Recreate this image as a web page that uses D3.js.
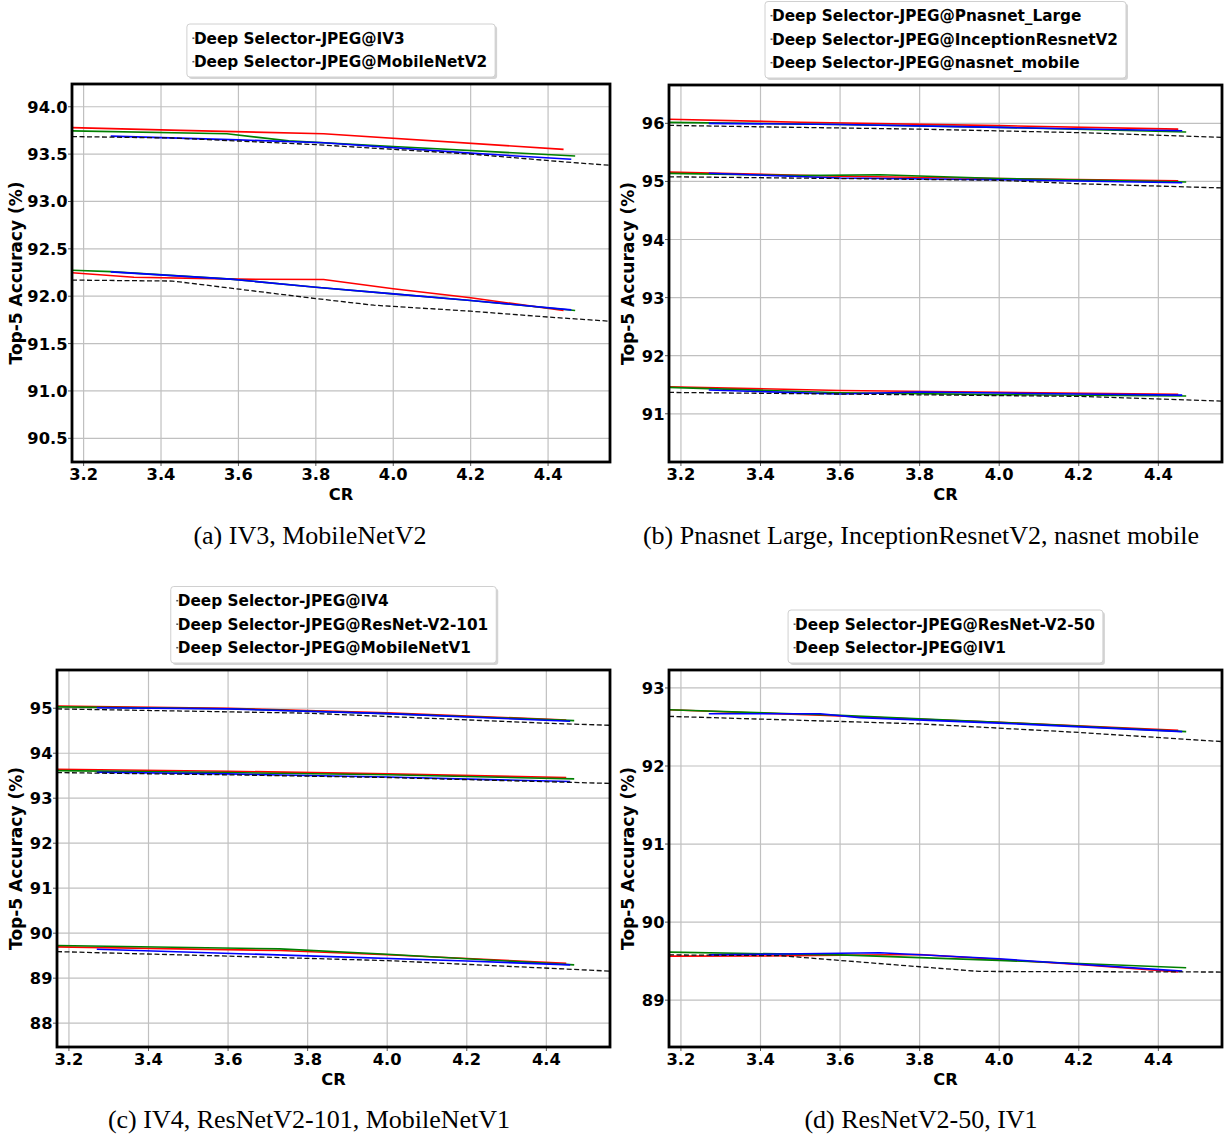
<!DOCTYPE html>
<meta charset="utf-8">
<html>
<head>
<style>
body { margin: 0; background: #fff; }
svg text { font-family: "DejaVu Sans", sans-serif; font-weight: bold; fill: #000; }
.caption { font-family: "Liberation Serif", serif; font-weight: normal; font-size: 26px; }
.tick { font-size: 16.3px; }
.legend text { font-size: 15.3px; }
</style>
</head>
<body>
<script src="https://d3js.org/d3.v7.min.js"></script>
<script>

// ---- data (CR, top-5 accuracy) ----
var xTicks = [3.2, 3.4, 3.6, 3.8, 4.0, 4.2, 4.4];
var yTicksA = [90.5, 91.0, 91.5, 92.0, 92.5, 93.0, 93.5, 94.0];
var yTicksB = [91, 92, 93, 94, 95, 96];
var yTicksC = [88, 89, 90, 91, 92, 93, 94, 95];
var yTicksD = [89, 90, 91, 92, 93];

// (a)
var iv3_red   = [[3.17,93.78],[3.45,93.75],[3.82,93.715],[4.44,93.55]];
var iv3_green = [[3.17,93.745],[3.57,93.715],[3.73,93.64],[4.0,93.58],[4.47,93.48]];
var iv3_blue  = [[3.27,93.69],[3.6,93.65],[3.82,93.62],[4.2,93.51],[4.46,93.445]];
var iv3_jpeg  = [[3.17,93.685],[3.43,93.67],[3.8,93.6],[4.2,93.5],[4.45,93.415],[4.6,93.37]];

var mnv2_red   = [[3.17,92.247],[3.33,92.2],[3.6,92.18],[3.82,92.176],[4.0,92.078],[4.2,91.983],[4.44,91.849]];
var mnv2_green = [[3.17,92.274],[3.27,92.26],[3.58,92.18],[3.8,92.095],[4.0,92.025],[4.2,91.955],[4.47,91.849]];
var mnv2_blue  = [[3.27,92.257],[3.58,92.18],[3.8,92.095],[4.0,92.025],[4.2,91.955],[4.46,91.856]];
var mnv2_jpeg  = [[3.17,92.17],[3.43,92.16],[3.8,91.975],[3.95,91.905],[4.2,91.842],[4.4,91.78],[4.6,91.725]];

// (b)
var pnas_red   = [[3.17,96.07],[3.5,96.02],[4.0,95.96],[4.45,95.9]];
var pnas_green = [[3.17,96.017],[3.6,95.98],[4.0,95.93],[4.47,95.85]];
var pnas_blue  = [[3.27,96.0],[3.6,95.98],[4.0,95.93],[4.46,95.873]];
var pnas_jpeg  = [[3.17,95.965],[3.4,95.94],[3.8,95.9],[4.2,95.84],[4.6,95.75]];

var irv2_red   = [[3.17,95.16],[3.6,95.09],[4.0,95.05],[4.45,95.01]];
var irv2_green = [[3.17,95.138],[3.5,95.1],[3.7,95.115],[4.0,95.05],[4.47,94.99]];
var irv2_blue  = [[3.27,95.14],[3.6,95.06],[4.0,95.03],[4.46,94.976]];
var irv2_jpeg  = [[3.17,95.08],[3.6,95.05],[4.0,95.02],[4.2,94.96],[4.6,94.88]];

var nasm_red   = [[3.17,91.466],[3.6,91.4],[4.0,91.37],[4.45,91.334]];
var nasm_green = [[3.17,91.455],[3.6,91.362],[4.0,91.33],[4.47,91.305]];
var nasm_blue  = [[3.27,91.41],[3.6,91.34],[3.8,91.374],[4.2,91.34],[4.46,91.322]];
var nasm_jpeg  = [[3.17,91.368],[3.6,91.34],[4.2,91.3],[4.6,91.21]];

// (c)
var iv4_red   = [[3.17,95.05],[3.6,95.0],[4.0,94.9],[4.45,94.74]];
var iv4_green = [[3.17,95.03],[3.6,94.99],[4.0,94.88],[4.47,94.725]];
var iv4_blue  = [[3.27,95.01],[3.6,94.985],[4.0,94.88],[4.46,94.71]];
var iv4_jpeg  = [[3.17,94.985],[3.8,94.89],[4.4,94.667],[4.6,94.61]];

var rn101_red   = [[3.17,93.644],[3.6,93.6],[4.0,93.54],[4.45,93.46]];
var rn101_green = [[3.17,93.613],[3.6,93.57],[4.0,93.52],[4.47,93.43]];
var rn101_blue  = [[3.27,93.577],[3.6,93.54],[4.0,93.47],[4.46,93.37]];
var rn101_jpeg  = [[3.17,93.57],[3.6,93.52],[4.0,93.46],[4.6,93.32]];

var mnv1_red   = [[3.17,89.695],[3.73,89.614],[4.0,89.52],[4.45,89.333]];
var mnv1_green = [[3.17,89.725],[3.73,89.651],[4.0,89.53],[4.47,89.296]];
var mnv1_blue  = [[3.27,89.644],[3.8,89.496],[4.2,89.38],[4.46,89.296]];
var mnv1_jpeg  = [[3.17,89.59],[3.6,89.49],[4.0,89.39],[4.6,89.14]];

// (d)
var rn50_red   = [[3.17,92.72],[3.55,92.65],[4.0,92.56],[4.45,92.457]];
var rn50_green = [[3.17,92.72],[3.6,92.65],[4.0,92.56],[4.47,92.44]];
var rn50_blue  = [[3.27,92.67],[3.55,92.67],[3.65,92.62],[4.0,92.55],[4.46,92.44]];
var rn50_jpeg  = [[3.17,92.636],[3.8,92.54],[4.2,92.43],[4.6,92.3]];

var iv1_red   = [[3.17,89.564],[3.4,89.565],[3.8,89.586],[4.2,89.458],[4.45,89.36]];
var iv1_green = [[3.17,89.615],[3.6,89.58],[4.0,89.51],[4.47,89.415]];
var iv1_blue  = [[3.27,89.58],[3.7,89.607],[4.0,89.53],[4.46,89.372]];
var iv1_jpeg  = [[3.17,89.58],[3.45,89.57],[3.8,89.428],[3.95,89.368],[4.6,89.36]];

var legendA = ["Deep Selector-JPEG@IV3", "Deep Selector-JPEG@MobileNetV2"];
var legendB = ["Deep Selector-JPEG@Pnasnet_Large", "Deep Selector-JPEG@InceptionResnetV2", "Deep Selector-JPEG@nasnet_mobile"];
var legendC = ["Deep Selector-JPEG@IV4", "Deep Selector-JPEG@ResNet-V2-101", "Deep Selector-JPEG@MobileNetV1"];
var legendD = ["Deep Selector-JPEG@ResNet-V2-50", "Deep Selector-JPEG@IV1"];

// ---- layout ----
var panels = [
  {id: "a", left: 72, right: 610, top: 84, bottom: 462, yDom: [90.25, 94.24], yTicks: yTicksA, fmt: ".1f",
   groups: [[iv3_red, iv3_green, iv3_blue, iv3_jpeg], [mnv2_red, mnv2_green, mnv2_blue, mnv2_jpeg]],
   legend: legendA, caption: "(a) IV3, MobileNetV2", capX: 310, capY: 544},
  {id: "b", left: 669, right: 1222, top: 85, bottom: 462, yDom: [90.17, 96.66], yTicks: yTicksB, fmt: "d",
   groups: [[pnas_red, pnas_green, pnas_blue, pnas_jpeg], [irv2_red, irv2_green, irv2_blue, irv2_jpeg], [nasm_red, nasm_green, nasm_blue, nasm_jpeg]],
   legend: legendB, caption: "(b) Pnasnet Large, InceptionResnetV2, nasnet mobile", capX: 921, capY: 544},
  {id: "c", left: 57, right: 610, top: 670, bottom: 1047, yDom: [87.47, 95.85], yTicks: yTicksC, fmt: "d",
   groups: [[iv4_red, iv4_green, iv4_blue, iv4_jpeg], [rn101_red, rn101_green, rn101_blue, rn101_jpeg], [mnv1_red, mnv1_green, mnv1_blue, mnv1_jpeg]],
   legend: legendC, caption: "(c) IV4, ResNetV2-101, MobileNetV1", capX: 309, capY: 1128},
  {id: "d", left: 669, right: 1222, top: 670, bottom: 1047, yDom: [88.40, 93.23], yTicks: yTicksD, fmt: "d",
   groups: [[rn50_red, rn50_green, rn50_blue, rn50_jpeg], [iv1_red, iv1_green, iv1_blue, iv1_jpeg]],
   legend: legendD, caption: "(d) ResNetV2-50, IV1", capX: 921, capY: 1128}
];
var colors = ["#ff0000", "#008000", "#0000ff"];

var svg = d3.select("body").append("svg")
  .attr("width", 1225)
  .attr("height", 1138);

panels.forEach(function(p) {
  var x = d3.scaleLinear().domain([3.17, 4.56]).range([p.left, p.right]);
  var y = d3.scaleLinear().domain(p.yDom).range([p.bottom, p.top]);
  var g = svg.append("g");

  svg.append("clipPath").attr("id", "clip-" + p.id)
    .append("rect")
    .attr("x", p.left).attr("y", p.top)
    .attr("width", p.right - p.left).attr("height", p.bottom - p.top);

  // grid
  g.selectAll(".gx").data(xTicks).enter().append("line")
    .attr("x1", x).attr("x2", x)
    .attr("y1", p.top).attr("y2", p.bottom)
    .attr("stroke", "#c0c0c0").attr("stroke-width", 1.2);
  g.selectAll(".gy").data(p.yTicks).enter().append("line")
    .attr("y1", y).attr("y2", y)
    .attr("x1", p.left).attr("x2", p.right)
    .attr("stroke", "#c0c0c0").attr("stroke-width", 1.2);

  // tick marks
  g.selectAll(".tx").data(xTicks).enter().append("line")
    .attr("x1", x).attr("x2", x)
    .attr("y1", p.bottom).attr("y2", p.bottom + 4)
    .attr("stroke", "#555").attr("stroke-width", 1);
  g.selectAll(".ty").data(p.yTicks).enter().append("line")
    .attr("y1", y).attr("y2", y)
    .attr("x1", p.left - 4).attr("x2", p.left)
    .attr("stroke", "#555").attr("stroke-width", 1);

  // tick labels
  var f = d3.format(p.fmt);
  g.selectAll(".xl").data(xTicks).enter().append("text")
    .attr("class", "tick")
    .attr("x", x).attr("y", p.bottom + 18)
    .attr("text-anchor", "middle")
    .text(d3.format(".1f"));
  g.selectAll(".yl").data(p.yTicks).enter().append("text")
    .attr("class", "tick")
    .attr("x", p.left - 4.5).attr("y", function(d) { return y(d) + 6; })
    .attr("text-anchor", "end")
    .text(f);

  // axis titles
  g.append("text")
    .attr("x", (p.left + p.right) / 2).attr("y", p.bottom + 38)
    .attr("text-anchor", "middle")
    .style("font-size", "16.3px")
    .text("CR");
  var yl = p.left < 300 ? 22 : 634;
  g.append("text")
    .attr("transform", "translate(" + yl + "," + ((p.top + p.bottom) / 2) + ") rotate(-90)")
    .attr("text-anchor", "middle")
    .style("font-size", "17px")
    .text("Top-5 Accuracy (%)");

  // lines
  var line = d3.line().x(function(d) { return x(d[0]); }).y(function(d) { return y(d[1]); });
  var lg = g.append("g").attr("clip-path", "url(#clip-" + p.id + ")");
  p.groups.forEach(function(grp) {
    grp.slice(0, 3).forEach(function(s, i) {
      lg.append("path").datum(s)
        .attr("d", line)
        .attr("fill", "none")
        .attr("stroke", colors[i])
        .attr("stroke-width", 1.6);
    });
    lg.append("path").datum(grp[3])
      .attr("d", line)
      .attr("fill", "none")
      .attr("stroke", "#111")
      .attr("stroke-width", 1.3)
      .attr("stroke-dasharray", "5,2.5");
  });

  // frame
  g.append("rect")
    .attr("x", p.left).attr("y", p.top)
    .attr("width", p.right - p.left).attr("height", p.bottom - p.top)
    .attr("fill", "none").attr("stroke", "#000").attr("stroke-width", 2.8);

  // legend
  var n = p.legend.length;
  var lgd = svg.append("g").attr("class", "legend");
  var bottomY = p.top - 7;
  var boxH = n * 23.5 + 6;
  var texts = p.legend.map(function(t, i) {
    return lgd.append("text")
      .attr("y", bottomY - 15.3 - (n - 1 - i) * 23.5 + 5.5)
      .text(t);
  });
  var maxW = d3.max(texts, function(t) { return t.node().getComputedTextLength(); });
  var boxW = maxW + 15;
  var bx = (p.left + p.right) / 2 - boxW / 2;
  lgd.insert("rect", "text")
    .attr("x", bx + 2).attr("y", bottomY - boxH + 2)
    .attr("width", boxW).attr("height", boxH)
    .attr("rx", 3).attr("fill", "#b8b8b8").attr("opacity", 0.6);
  lgd.insert("rect", "text")
    .attr("x", bx).attr("y", bottomY - boxH)
    .attr("width", boxW).attr("height", boxH)
    .attr("rx", 3).attr("fill", "#fff").attr("stroke", "#d0d0d0").attr("stroke-width", 1);
  texts.forEach(function(t, i) {
    t.attr("x", bx + 7);
    var cy = bottomY - 15.3 - (n - 1 - i) * 23.5;
    lgd.append("line")
      .attr("x1", bx + 5.5).attr("x2", bx + 7.5)
      .attr("y1", cy).attr("y2", cy)
      .attr("stroke", "#555").attr("stroke-width", 1.5);
  });

  // caption
  svg.append("text")
    .attr("class", "caption")
    .attr("x", p.capX).attr("y", p.capY)
    .attr("text-anchor", "middle")
    .text(p.caption);
});

</script>
</body>
</html>
